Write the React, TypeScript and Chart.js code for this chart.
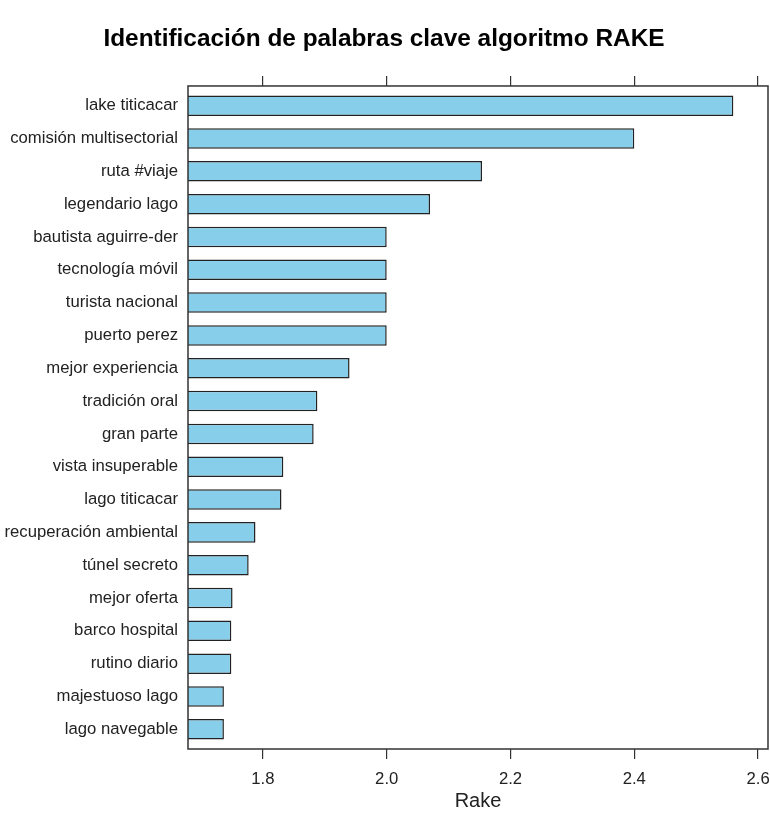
import React, { useEffect, useRef } from "react";
import { Chart, registerables } from "chart.js";

Chart.register(...registerables);

const chartTitle = "Identificación de palabras clave algoritmo RAKE";
const axisTitle = "Rake";

const keywords = [
  "lake titicacar",
  "comisión multisectorial",
  "ruta #viaje",
  "legendario lago",
  "bautista aguirre-der",
  "tecnología móvil",
  "turista nacional",
  "puerto perez",
  "mejor experiencia",
  "tradición oral",
  "gran parte",
  "vista insuperable",
  "lago titicacar",
  "recuperación ambiental",
  "túnel secreto",
  "mejor oferta",
  "barco hospital",
  "rutino diario",
  "majestuoso lago",
  "lago navegable",
];

const rakeValues = [
  2.56, 2.4, 2.154, 2.07, 2.0, 2.0, 2.0, 2.0, 1.94, 1.888, 1.882, 1.833, 1.83,
  1.788, 1.777, 1.751, 1.749, 1.749, 1.737, 1.737,
];

const xTicks = [1.8, 2.0, 2.2, 2.4, 2.6];
const xMin = 1.679;
const xMax = 2.616;

const FONT = "'Liberation Sans', Arial, Helvetica, sans-serif";

const boxPlugin = {
  id: "boxPlugin",
  afterDatasetsDraw(chart: any) {
    const { ctx, chartArea } = chart;
    ctx.save();
    ctx.strokeStyle = "#333333";
    ctx.lineWidth = 1.5;
    ctx.strokeRect(
      chartArea.left,
      chartArea.top,
      chartArea.right - chartArea.left,
      chartArea.bottom - chartArea.top
    );
    ctx.restore();
  },
};

export default function App() {
  const canvasRef = useRef<HTMLCanvasElement | null>(null);

  useEffect(() => {
    if (!canvasRef.current) return;
    const setTicks = (scale: any) => {
      scale.ticks = xTicks.map((v) => ({ value: v }));
    };
    const noSidePad = (h: number) => (scale: any) => {
      scale.height = h;
      scale.paddingLeft = 0;
      scale.paddingRight = 0;
    };
    const chart = new Chart(canvasRef.current, {
      type: "bar",
      data: {
        datasets: [
          {
            data: rakeValues.map((v, i) => ({ x: v, y: i })),
            backgroundColor: "#87CEEB",
            borderColor: "#222222",
            borderWidth: 1.5,
            borderSkipped: false,
            barPercentage: 0.625,
            categoryPercentage: 1,
            xAxisID: "x",
            yAxisID: "y",
          },
        ],
      },
      options: {
        indexAxis: "y",
        animation: false,
        responsive: false,
        devicePixelRatio: 1,
        layout: { padding: { top: 0, right: 2, bottom: 0, left: 0 } },
        plugins: {
          legend: { display: false },
          tooltip: { enabled: false },
          title: {
            display: true,
            text: chartTitle,
            color: "#000000",
            font: { family: FONT, size: 24.4, weight: "bold" },
            padding: { top: 24.5, bottom: 0 },
          },
        },
        scales: {
          x: {
            type: "linear",
            position: "bottom",
            bounds: "data",
            min: xMin,
            max: xMax,
            afterBuildTicks: setTicks,
            afterFit: noSidePad(71),
            grid: {
              drawOnChartArea: false,
              drawTicks: true,
              tickLength: 10,
              tickColor: "#333333",
              lineWidth: 1.2,
            },
            border: { display: false },
            ticks: {
              padding: 10,
              color: "#222222",
              font: { family: FONT, size: 16.7 },
              callback: (v: any) => Number(v).toFixed(1),
            },
            title: {
              display: true,
              text: axisTitle,
              color: "#222222",
              font: { family: FONT, size: 20 },
              padding: { top: 0, bottom: 7 },
            },
          },
          x2: {
            type: "linear",
            position: "top",
            bounds: "data",
            min: xMin,
            max: xMax,
            afterBuildTicks: setTicks,
            afterFit: noSidePad(32.2),
            grid: {
              drawOnChartArea: false,
              drawTicks: true,
              tickLength: 10,
              tickColor: "#333333",
              lineWidth: 1.2,
            },
            border: { display: false },
            ticks: {
              color: "rgba(0,0,0,0)",
              font: { family: FONT, size: 10 },
            },
          },
          y: {
            type: "linear",
            position: "left",
            bounds: "data",
            offset: false,
            reverse: true,
            min: -0.6,
            max: keywords.length - 1 + 0.6,
            afterBuildTicks: (scale: any) => {
              scale.ticks = keywords.map((_, i) => ({ value: i }));
            },
            afterFit: (scale: any) => {
              scale.width = 188;
              scale.paddingTop = 0;
              scale.paddingBottom = 0;
            },
            grid: { display: false, drawTicks: false, offset: false },
            border: { display: false },
            ticks: {
              autoSkip: false,
              padding: 10,
              color: "#222222",
              font: { family: FONT, size: 16.7 },
              callback: (v: any) => keywords[Math.round(Number(v))] ?? "",
            },
          },
        },
      },
      plugins: [boxPlugin],
    } as any);
    return () => chart.destroy();
  }, []);

  return (
    <div
      style={{
        position: "fixed",
        left: 0,
        top: 0,
        width: 770,
        height: 820,
        background: "#ffffff",
      }}
    >
      <canvas
        ref={canvasRef}
        width={770}
        height={820}
        style={{ display: "block", width: 770, height: 820 }}
      />
    </div>
  );
}
